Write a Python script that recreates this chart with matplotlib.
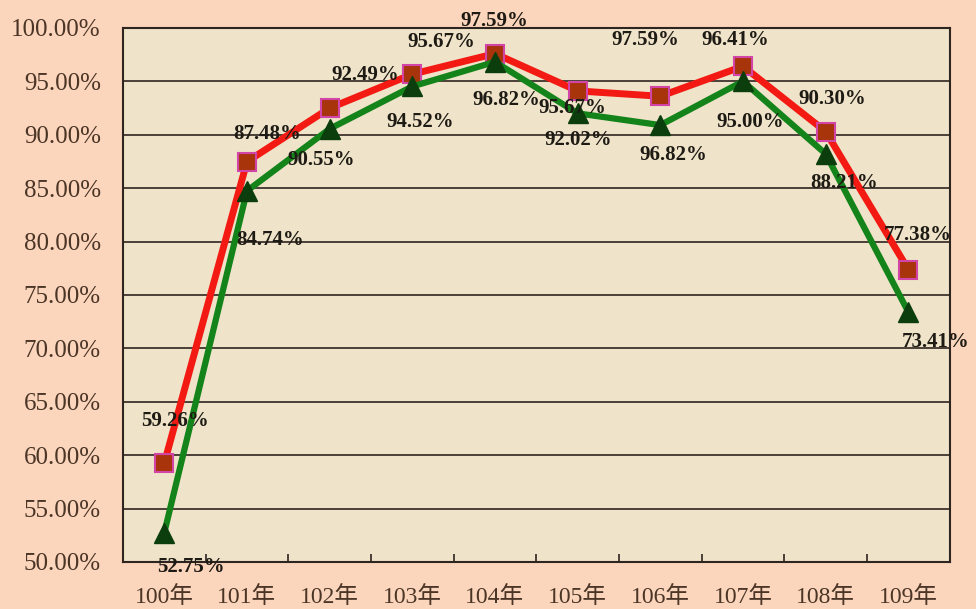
import matplotlib.pyplot as plt
from matplotlib.ticker import FuncFormatter

# Data
years = ['100年', '101年', '102年', '103年', '104年', '105年', '106年', '107年', '108年', '109年']
red_values = [59.26, 87.48, 92.49, 95.67, 97.59, 94.10, 93.60, 96.41, 90.30, 77.38]
green_values = [52.75, 84.74, 90.55, 94.52, 96.82, 92.00, 90.90, 95.00, 88.21, 73.41]

# Label texts as printed on the chart
red_labels = ['59.26%', '87.48%', '92.49%', '95.67%', '97.59%',
              '95.67%', '97.59%', '96.41%', '90.30%', '77.38%']
green_labels = ['52.75%', '84.74%', '90.55%', '94.52%', '96.82%',
                '92.02%', '96.82%', '95.00%', '88.21%', '73.41%']

# label offsets in pixels (dx, dy) from each point
red_offsets = [(11, 42), (20, 28), (36, 33), (29, 32), (-1, 33),
               (-5, -17), (-15, 56), (-8, 26), (7, 33), (9, 35)]
green_offsets = [(27, -34), (23, -49), (-8, -31), (8, -36), (11, -38),
                 (1, -27), (13, -30), (7, -41), (18, -29), (27, -30)]

outer_bg = '#FCD6BC'
plot_bg = '#EFE4C9'
text_col = '#4A3526'

fig = plt.figure(figsize=(9.76, 6.09), dpi=100, facecolor=outer_bg)
ax = fig.add_axes([0.126, 0.0772, 0.847, 0.877])
ax.set_facecolor(plot_bg)

x = list(range(len(years)))

ax.plot(x, red_values, color='#F21A12', lw=5, zorder=3,
        marker='s', markersize=13, markerfacecolor='#A8340C',
        markeredgecolor='#D244A8', markeredgewidth=1.5, clip_on=False)
ax.plot(x, green_values, color='#13831A', lw=4.5, zorder=4,
        marker='^', markersize=14, markerfacecolor='#0B3D0D',
        markeredgecolor='#0B3D0D', clip_on=False)

label_font = dict(family='Liberation Serif', fontsize=15, fontweight='bold', color='#1E1A14')
for xi, v, t, off in zip(x, red_values, red_labels, red_offsets):
    ax.annotate(t, (xi, v), xytext=off, textcoords='offset pixels',
                ha='center', va='center', zorder=6, annotation_clip=False, **label_font)
for xi, v, t, off in zip(x, green_values, green_labels, green_offsets):
    ax.annotate(t, (xi, v), xytext=off, textcoords='offset pixels',
                ha='center', va='center', zorder=6, annotation_clip=False, **label_font)

ax.set_xlim(-0.5, len(years) - 0.5)
ax.set_ylim(50, 100)
ax.set_yticks(range(50, 101, 5))
ax.yaxis.set_major_formatter(FuncFormatter(lambda v, p: f'{v:.2f}%'))
ax.grid(axis='y', color='#2E2420', lw=1.2, zorder=1)
ax.set_axisbelow(True)

ax.set_xticks([i + 0.5 for i in range(len(years) - 1)])
ax.set_xticklabels([])
ax.set_xticks(x, minor=True)
ax.set_xticklabels(years, minor=True, family=['Liberation Serif', 'Noto Sans CJK TC'],
                   fontsize=17, color=text_col)
ax.tick_params(axis='x', which='major', direction='in', length=6, width=1.2, color='#2E2420')
ax.tick_params(axis='x', which='minor', length=0, pad=17)
ax.tick_params(axis='y', length=0, pad=16, labelsize=18, labelcolor=text_col)
for lbl in ax.get_yticklabels():
    lbl.set_family('Liberation Serif')

for s in ax.spines.values():
    s.set_color('#2E2420')
    s.set_linewidth(1.5)

fig.savefig('out.png', dpi=100, facecolor=outer_bg)
